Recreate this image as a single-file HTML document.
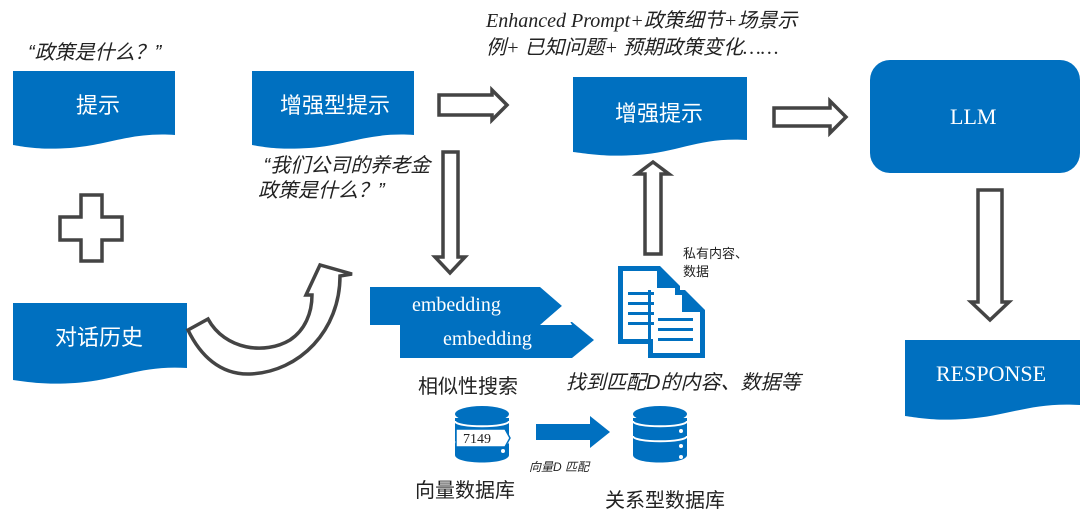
<!DOCTYPE html>
<html><head><meta charset="utf-8"><style>
body{margin:0;width:1080px;height:520px;background:#fff;overflow:hidden;position:relative;font-family:"Liberation Sans","Noto Sans CJK SC",sans-serif}
.t{position:absolute;white-space:nowrap;color:#222}
.i{font-style:italic}
.w{color:#fff}
</style></head><body>
<svg width="1080" height="520" style="position:absolute;left:0;top:0">
<g fill="#0070c0">
<path d="M13,71 H175 V135 C130,132 110,145 70,148 C40,150 25,147 13,145 Z"/>
<path d="M252,71 H414 V135 C369,132 349,145 309,148 C279,150 264,147 252,145 Z"/>
<path d="M573,77 H747 V140 C700,137 680,152 637,155 C605,157 590,154 573,152 Z"/>
<path d="M13,303 H187 V368 C140,365 118,380 75,383 C45,385 28,382 13,380 Z"/>
<path d="M905,340 H1080 V405 C1030,402 1010,416 965,419 C935,421 920,418 905,416 Z"/>
<rect x="870" y="60" width="210" height="113" rx="20"/>
<path d="M370,287 H540 L562,306 L540,325 H370 Z"/>
<path d="M400,322 H572 L594,340 L572,358 H400 Z"/>
<path d="M536,424 H590 V416 L610,432 L590,448 V440 H536 Z"/>
</g>
<path d="M562,306 L540,325 L572,325" fill="#fff"/>
<g fill="#fff" stroke="#444" stroke-width="3.5">
<path d="M439,95 H492 V90 L507,105 L492,120 V115 H439 Z"/>
<path d="M774,108 H830 V101 L846,117 L830,133 V126 H774 Z"/>
<path d="M443,152 H458 V257 H465 L450,273 L435,257 H443 Z"/>
<path d="M978,190 H1002 V302 H1009 L990,320 L971,302 H978 Z"/>
<path d="M645,254 H661 V174 H669 L653,162 L637,174 H645 Z"/>
<path d="M81,195 H102 V217 H122 V240 H102 V261 H81 V240 H60 V217 H81 Z"/>
<path d="M188,330 L208,319 C225,350 265,355 290,340 C305,330 312,313 312,295 L306,295 L320,265 L352,274 L340,276 C340,330 300,372 250,374 C220,375 200,355 188,330 Z"/>
</g>
<g fill="#0070c0">
<path d="M618,266 H660 L680,286 V344 H618 Z"/>
<path d="M648,290 H685 L705,310 V358 H648 Z"/>
</g>
<g fill="#fff">
<path d="M623,271 H657 V288 H675 V339 H623 Z"/>
<path d="M653,295 H682 V312 H700 V353 H653 Z"/>
</g>
<g fill="#0070c0">
<path d="M648,290 H651 V358 H648 Z"/>
<rect x="628" y="292" width="26" height="3"/><rect x="628" y="302" width="26" height="3"/><rect x="628" y="312" width="26" height="3"/><rect x="628" y="322" width="26" height="3"/>
<rect x="658" y="318" width="35" height="3"/><rect x="658" y="328" width="35" height="3"/><rect x="658" y="338" width="35" height="3"/>
<path d="M657,271 L675,288 H657 Z"/><path d="M682,295 L700,312 H682 Z"/>
</g>
<g fill="#0070c0">
<ellipse cx="482" cy="414" rx="27" ry="8"/>
<path d="M455,418 H509 V455 C509,465 455,465 455,455 Z"/>
<ellipse cx="660" cy="414" rx="27" ry="8"/>
<path d="M633,418 H687 V455 C687,465 633,465 633,455 Z"/>
</g>
<g stroke="#fff" stroke-width="2" fill="none">
<path d="M455,421 C455,428 509,428 509,421"/><path d="M455,441 C455,448 509,448 509,441"/>
<path d="M633,421 C633,428 687,428 687,421"/><path d="M633,436 C633,443 687,443 687,436"/>
</g>
<g fill="#fff"><circle cx="503" cy="431" r="2"/><circle cx="503" cy="451" r="2"/><circle cx="681" cy="431" r="2"/><circle cx="681" cy="446" r="2"/><circle cx="681" cy="457" r="2"/></g>
<path d="M456,429 H505 L510,438 L505,447 H456 Z" fill="#fff" stroke="#0070c0" stroke-width="1.5"/>
<text x="463" y="443" font-family="Liberation Serif" font-size="14" fill="#222">7149</text>
</svg>
<div class="t i" style="left:28px;top:36px;font-size:20px">“政策是什么？”</div>
<div class="t w" style="left:76px;top:88px;font-size:22px">提示</div>
<div class="t w" style="left:280px;top:88px;font-size:22px">增强型提示</div>
<div class="t i" style="left:258px;top:154px;font-size:20px;line-height:25px">&nbsp;“我们公司的养老金<br>政策是什么？”</div>
<div class="t i" style="left:486px;top:8px;font-size:20px;line-height:27px;font-family:'Liberation Serif','Noto Sans CJK SC',serif">Enhanced Prompt+政策细节+场景示<br>例+ 已知问题+ 预期政策变化……</div>
<div class="t w" style="left:615px;top:96px;font-size:22px">增强提示</div>
<div class="t w" style="left:950px;top:104px;font-size:22px;font-family:'Liberation Serif',serif">LLM</div>
<div class="t w" style="left:936px;top:361px;font-size:22px;font-family:'Liberation Serif',serif">RESPONSE</div>
<div class="t w" style="left:55px;top:320px;font-size:22px">对话历史</div>
<div class="t" style="left:683px;top:245px;font-size:13px;line-height:18px">私有内容、<br>数据</div>
<div class="t w" style="left:412px;top:294px;font-size:20px;font-family:'Liberation Serif',serif">embedding</div>
<div class="t w" style="left:443px;top:328px;font-size:20px;font-family:'Liberation Serif',serif">embedding</div>
<div class="t i" style="left:566px;top:366px;font-size:20px">找到匹配D的内容、数据等</div>
<div class="t" style="left:418px;top:370px;font-size:20px">相似性搜索</div>
<div class="t i" style="left:529px;top:458px;font-size:12px">向量D 匹配</div>
<div class="t" style="left:415px;top:474px;font-size:20px">向量数据库</div>
<div class="t" style="left:605px;top:484px;font-size:20px">关系型数据库</div>
</body></html>
